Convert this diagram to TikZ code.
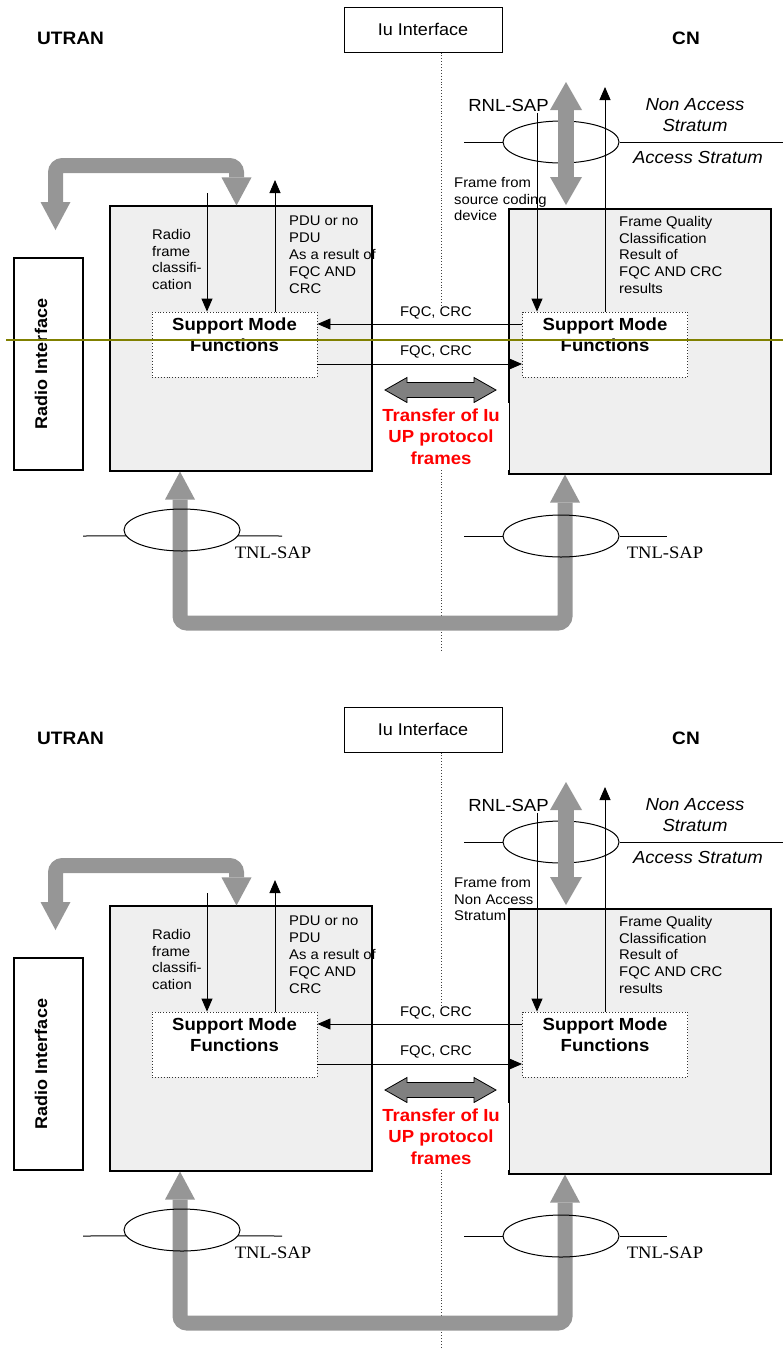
\documentclass[tikz,border=0pt]{standalone}
\usepackage{fontspec}
\setmainfont{Liberation Sans}[FakeStretch=1.06]
\newfontfamily\serifF{Liberation Serif}[FakeStretch=1.06]
\usetikzlibrary{arrows.meta,shapes.geometric,calc}
\definecolor{bgray}{RGB}{150,150,150}
\definecolor{boxfill}{RGB}{239,239,239}
\definecolor{olivel}{RGB}{128,128,0}
\definecolor{tgray}{RGB}{128,128,128}
\definecolor{redt}{RGB}{255,0,0}
\tikzset{
  every node/.style={inner sep=0pt},
  txtsmall/.style={font=\fontsize{14}{16.8}\selectfont, align=left, anchor=north west},
  txtmid/.style={font=\fontsize{17.5}{21}\selectfont},
  txtbold/.style={font=\fontsize{18}{21}\selectfont\bfseries},
  bigbox/.style={draw=black, line width=1.1pt, fill=boxfill, minimum width=262pt, minimum height=265pt},
  smfbox/.style={draw=black!80, dotted, line width=0.9pt, fill=white, minimum width=165pt, minimum height=65pt},
  smftext/.style={font=\fontsize{17.5}{21}\selectfont\bfseries, align=center, anchor=north},
  arr/.style={draw=black, line width=0.9pt, -{Triangle[length=13pt,width=11pt]}},
  bigarr/.style={draw=bgray, line width=15pt, rounded corners=7pt, >={Triangle[length=28pt,width=30pt,line width=0pt]}, <->},
  iuline/.style={draw=black!75, dotted, line width=0.9pt},
  sapell/.style={draw=black, line width=1pt, ellipse, minimum width=116pt, minimum height=42pt},
  sapline/.style={draw=black, line width=1pt},
  tnltext/.style={font=\fontsize{17.5}{21}\selectfont\serifF},
}
\newcommand\drawpanel[4]{%
\begin{scope}[shift={(0,#1)}]
  % headings
  \node[txtbold] (#2utran) at (70.5,38) {UTRAN};
  \node[txtbold] (#2cn) at (686,38) {CN};
  \node[draw=black, line width=1pt, minimum width=158pt, minimum height=45pt, font=\fontsize{17}{20}\selectfont] (#2iu) at (423,29.5) {Iu Interface};
  \coordinate (#2dl) at (441,307);
  \coordinate (#2dm) at (441,467);
  \coordinate (#2dn) at (441,#4);
  \draw[iuline] (#2iu.south -| #2dl) -- (#2dl);
  \draw[iuline] (#2dm) -- (#2dn);
  % boxes
  \node[bigbox] (#2lbox) at (241,338.5) {};
  \node[bigbox] (#2cbox) at (640,341.5) {};
  \node[draw=black, line width=1.2pt, fill=white, minimum width=69pt, minimum height=212pt] (#2radio) at (48.5,364) {};
  \node[rotate=90, font=\fontsize{17}{20}\selectfont\bfseries] at (41,364) {Radio Interface};
  \node[smfbox] (#2smfL) at (234.5,344.5) {};
  \node[smfbox] (#2smfC) at (605,344.5) {};
  \node[smftext] at (234.5,317.7) {Support Mode\\Functions};
  \node[smftext] at (605,317.7) {Support Mode\\Functions};
  % top-left bent gray arrow
  \coordinate (#2ga) at (55.5,230);
  \coordinate (#2gb) at (55.5,165.5);
  \coordinate (#2gc) at (236.5,165.5);
  \draw[bigarr] (#2ga) -- (#2gb) -- (#2gc) -- (#2gc |- #2lbox.north);
  % UTRAN small arrows
  \coordinate (#2rf) at (207,193);
  \coordinate (#2pd) at (275,180);
  \draw[arr] (#2rf) -- (#2rf |- #2smfL.north);
  \draw[arr] (#2pd |- #2smfL.north) -- (#2pd);
  \node[txtsmall] at (152,229) {Radio\\frame\\classifi-\\cation};
  \node[txtsmall] at (289,216) {PDU or no\\PDU\\As a result of\\FQC AND\\CRC};
  % FQC arrows
  \coordinate (#2fa) at (0,324);
  \coordinate (#2fb) at (0,364);
  \draw[arr] (#2smfC.west |- #2fa) -- (#2smfL.east |- #2fa);
  \draw[arr] (#2smfL.east |- #2fb) -- (#2smfC.west |- #2fb);
  \node[font=\fontsize{14}{16.8}\selectfont] at (436,313) {FQC, CRC};
  \node[font=\fontsize{14}{16.8}\selectfont] at (436,352) {FQC, CRC};
  % transfer arrow
  \draw[fill=tgray, draw=black, line width=0.8pt] (385,390) -- (407,377.5) -- (407,382.5) -- (474,382.5) -- (474,377.5) -- (496,390) -- (474,402.5) -- (474,397.5) -- (407,397.5) -- (407,402.5) -- cycle;
  \node[fill=white, inner xsep=0pt, inner ysep=5.5pt, minimum width=136pt, align=center, anchor=north, text=redt, font=\fontsize{17.5}{21.5}\selectfont\bfseries] at (441,403) {Transfer of Iu\\UP protocol\\frames};
  % RNL-SAP
  \node[sapell] (#2rnl) at (561,142) {};
  \coordinate (#2rl) at (464,142);
  \coordinate (#2rr) at (783,142);
  \draw[sapline] (#2rl) -- (#2rnl.west);
  \draw[sapline] (#2rnl.east) -- (#2rr);
  \coordinate (#2va) at (566,82);
  \coordinate (#2vb) at (566,205);
  \draw[bigarr, line width=16pt, >={Triangle[length=28pt,width=32pt,line width=0pt]}] (#2va) -- (#2vb);
  \node[txtmid] at (508.5,105) {RNL-SAP};
  \node[txtmid, font=\fontsize{17.5}{21}\selectfont\itshape, align=center, anchor=north] at (695,98.7) {Non Access\\Stratum};
  \node[txtmid, font=\fontsize{17.5}{21}\selectfont\itshape] at (698,157) {Access Stratum};
  % CN small arrows
  \coordinate (#2sd) at (537,113);
  \coordinate (#2su) at (605,87);
  \draw[arr] (#2sd) -- (#2sd |- #2smfC.north);
  \draw[arr] (#2su |- #2smfC.north) -- (#2su);
  \node[txtsmall] at (454,177) {#3};
  \node[txtsmall] at (619,216) {Frame Quality\\Classification\\Result of\\FQC AND CRC\\results};
  % bottom gray arrow
  \coordinate (#2tl) at (180,623);
  \coordinate (#2tr) at (565,623);
  \draw[bigarr] (#2lbox.south -| #2tl) -- (#2tl) -- (#2tr) -- (#2cbox.south -| #2tr);
  % TNL-SAPs
  \node[sapell] (#2tnlL) at (182,530) {};
  \coordinate (#2ta) at (83,536);
  \coordinate (#2tb) at (282,536);
  \draw[sapline] (#2ta) -- (#2tnlL.186);
  \draw[sapline] (#2tnlL.354) -- (#2tb);
  \node[tnltext] at (273,553) {TNL-SAP};
  \node[sapell] (#2tnlR) at (561,536) {};
  \coordinate (#2tc) at (464,536);
  \coordinate (#2td) at (667,536);
  \draw[sapline] (#2tc) -- (#2tnlR.west);
  \draw[sapline] (#2tnlR.east) -- (#2td);
  \node[tnltext] at (665,553) {TNL-SAP};
\end{scope}}
\begin{document}
\begin{tikzpicture}[x=1pt,y=-1pt]
  \useasboundingbox (0,0) rectangle (783,1349);
  \drawpanel{0}{a}{Frame from\\source coding\\device}{650}
  \coordinate (olA) at (6,340);
  \coordinate (olB) at (783,340);
  \draw[draw=olivel, line width=1.5pt] (olA) -- (olB);
  \drawpanel{700}{b}{Frame from\\Non Access\\Stratum}{649}
\end{tikzpicture}
\end{document}
